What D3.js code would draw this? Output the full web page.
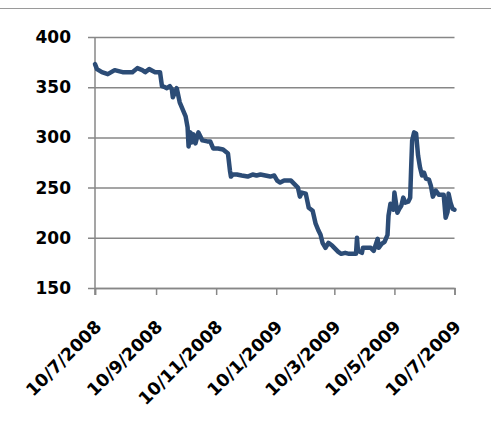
<!DOCTYPE html>
<html>
<head>
<meta charset="utf-8">
<script src="https://cdn.jsdelivr.net/npm/d3@7"></script>
<style>
  html, body { margin: 0; padding: 0; background: #fff; }
  svg { display: block; }
</style>
</head>
<body>
<svg id="chart" width="491" height="439"></svg>
<script>
// ---- data ----
const dates = [
  "2008-07-10","2008-07-12","2008-07-17","2008-07-23","2008-07-30","2008-08-07","2008-08-17","2008-08-22",
  "2008-08-27","2008-08-30","2008-09-03","2008-09-09","2008-09-14","2008-09-16","2008-09-19","2008-09-21",
  "2008-09-24","2008-09-26","2008-09-27","2008-10-01","2008-10-04","2008-10-07","2008-10-10","2008-10-12",
  "2008-10-13","2008-10-15","2008-10-16","2008-10-18","2008-10-20","2008-10-23","2008-10-27","2008-11-01",
  "2008-11-04","2008-11-07","2008-11-12","2008-11-17","2008-11-22","2008-11-24","2008-11-25","2008-11-27",
  "2008-12-01","2008-12-06","2008-12-12","2008-12-17","2008-12-21","2008-12-25","2008-12-30","2009-01-04",
  "2009-01-08","2009-01-11","2009-01-14","2009-01-18","2009-01-22","2009-01-25","2009-01-28","2009-02-01",
  "2009-02-03","2009-02-05","2009-02-09","2009-02-12","2009-02-16","2009-02-19","2009-02-22","2009-02-24",
  "2009-02-26","2009-03-01","2009-03-04","2009-03-08","2009-03-11","2009-03-14","2009-03-17","2009-03-21",
  "2009-03-25","2009-03-29","2009-04-01","2009-04-02","2009-04-03","2009-04-07","2009-04-08","2009-04-13",
  "2009-04-16","2009-04-19","2009-04-23","2009-04-24","2009-04-27","2009-04-30","2009-05-03","2009-05-04",
  "2009-05-06","2009-05-09","2009-05-10","2009-05-13","2009-05-15","2009-05-17","2009-05-19","2009-05-21",
  "2009-05-24","2009-05-26","2009-05-27","2009-05-28","2009-05-30","2009-06-01","2009-06-03","2009-06-05",
  "2009-06-07","2009-06-09","2009-06-11","2009-06-14","2009-06-16","2009-06-18","2009-06-21","2009-06-24",
  "2009-06-26","2009-06-29","2009-07-01","2009-07-03","2009-07-04","2009-07-06","2009-07-08","2009-07-10"
];
const values = [
  373,368,365,363,367,365,365,369,
  367,365,368,365,365,351,350,349,
  351,348,340,349,335,328,321,310,
  291,305,295,303,294,305,297,296,
  296,289,289,288,284,267,261,263,
  263,262,261,263,262,263,262,261,
  262,257,255,257,257,257,254,250,
  241,245,244,230,227,214,207,203,
  195,190,195,192,189,186,184,185,
  184,184,184,200,187,185,190,190,
  190,187,199,190,194,196,203,222,
  234,228,245,225,229,232,240,235,
  236,240,270,297,305,304,282,270,
  262,265,259,258,252,241,247,243,
  243,243,220,226,244,235,229,228
];
const yTicks = [150, 200, 250, 300, 350, 400];
const xTickDates = ["2008-07-10","2008-09-10","2008-11-10","2009-01-10","2009-03-10","2009-05-10","2009-07-10"];
const xTickLabels = ["10/7/2008","10/9/2008","10/11/2008","10/1/2009","10/3/2009","10/5/2009","10/7/2009"];

// ---- drawing ----
const parse = d3.timeParse("%Y-%m-%d");
const series = dates.map((d, i) => ({ date: parse(d), value: values[i] }));

const svg = d3.select("#chart");
const mLeft = 95, mRight = 454.5, mTop = 37, mBottom = 288;

const x = d3.scaleTime()
  .domain([parse(xTickDates[0]), parse(xTickDates[xTickDates.length - 1])])
  .range([mLeft, mRight]);
const y = d3.scaleLinear().domain([150, 400]).range([mBottom, mTop]);

const gridColor = "#878787";

// stray top border line
svg.append("line")
  .attr("x1", 0).attr("x2", 491).attr("y1", 8.5).attr("y2", 8.5)
  .attr("stroke", "#9a9a9a").attr("stroke-width", 1.2);

// horizontal gridlines (y axis)
const yAxis = d3.axisLeft(y).tickValues(yTicks).tickSize(-(mRight - mLeft)).tickFormat(d3.format("d"));
const gy = svg.append("g").attr("transform", `translate(${mLeft},0)`).call(yAxis);
gy.select(".domain").remove();
gy.selectAll(".tick line").attr("stroke", gridColor).attr("stroke-width", 1.5).attr("x1", -7);
gy.selectAll(".tick text")
  .attr("fill", "#000")
  .attr("x", -24)
  .style("font-family", "'DejaVu Sans', sans-serif")
  .style("font-weight", "bold")
  .style("font-size", "17px");

// vertical axis line
svg.append("line")
  .attr("x1", mLeft).attr("x2", mLeft).attr("y1", mTop).attr("y2", mBottom + 7)
  .attr("stroke", gridColor).attr("stroke-width", 1.5);

// x axis
const xAxis = d3.axisBottom(x).tickValues(xTickDates.map(parse)).tickSize(7)
  .tickFormat((d, i) => xTickLabels[i]);
const gx = svg.append("g").attr("transform", `translate(0,${mBottom})`).call(xAxis);
gx.select(".domain").attr("stroke", gridColor).attr("stroke-width", 1.5);
gx.selectAll(".tick line").attr("stroke", gridColor).attr("stroke-width", 1.5);
gx.selectAll(".tick text")
  .attr("fill", "#000")
  .attr("text-anchor", "end")
  .attr("dy", null)
  .attr("y", 0)
  .attr("transform", "translate(7,40) rotate(-45)")
  .style("font-family", "'DejaVu Sans', sans-serif")
  .style("font-weight", "bold")
  .style("font-size", "17.5px");

// line
const line = d3.line().x(d => x(d.date)).y(d => y(d.value));
svg.append("path")
  .datum(series)
  .attr("d", line)
  .attr("fill", "none")
  .attr("stroke", "#2c4c76")
  .attr("stroke-width", 4.5)
  .attr("stroke-linejoin", "round")
  .attr("stroke-linecap", "round");
</script>
</body>
</html>
